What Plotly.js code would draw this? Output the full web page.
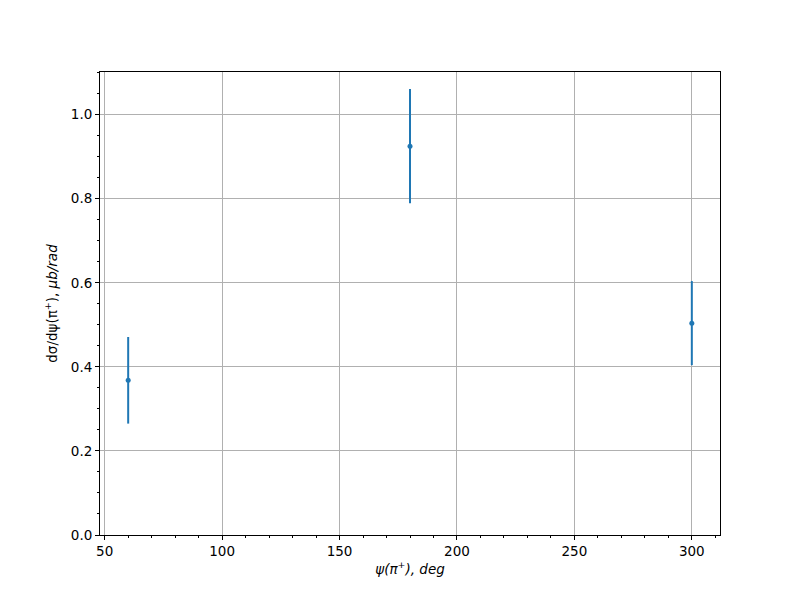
<!DOCTYPE html>
<html><head><meta charset="utf-8">
<script src="https://cdn.plot.ly/plotly-3.0.1.min.js"></script>
<style>body{margin:0;background:#fff}#chart{width:800px;height:600px}</style>
</head><body><div id="chart"></div>
<script>
const psiDeg = [60, 180, 300];
const dsigma = [0.368, 0.925, 0.504];
const dsigmaErr = [0.103, 0.136, 0.100];

const trace = {
  x: psiDeg, y: dsigma, type: 'scatter', mode: 'markers',
  marker: {color: '#1f77b4', size: 5},
  error_y: {type: 'data', array: dsigmaErr, visible: true, color: '#1f77b4', thickness: 2, width: 0}
};
const axBase = {
  showline: true, mirror: true, linecolor: '#000', linewidth: 1,
  ticks: 'outside', ticklen: 4, tickwidth: 1, tickcolor: '#000',
  showgrid: true, gridcolor: '#b0b0b0', gridwidth: 1, zeroline: false,
  tickfont: {family: 'DejaVu Sans', size: 13.5, color: '#000'},
  title: {font: {family: 'DejaVu Sans', size: 13.5, color: '#000'}}
};
const layout = {
  width: 800, height: 600, showlegend: false,
  paper_bgcolor: '#fff', plot_bgcolor: '#fff',
  margin: {l: 100, r: 80, t: 72, b: 65},
  xaxis: Object.assign({}, axBase, {
    range: [48, 312], tick0: 50, dtick: 50,
    minor: {dtick: 10, ticks: 'outside', ticklen: 2, tickcolor: '#000', showgrid: false},
    title: {text: '<i>ψ(π<sup>+</sup>), deg</i>', standoff: 6, font: axBase.title.font}
  }),
  yaxis: Object.assign({}, axBase, {
    range: [0, 1.1014], tick0: 0, dtick: 0.2, tickformat: '.1f',
    minor: {dtick: 0.05, ticks: 'outside', ticklen: 2, tickcolor: '#000', showgrid: false},
    title: {text: 'dσ/dψ(π<sup>+</sup>), <i>μb/rad</i>', standoff: 10, font: axBase.title.font}
  })
};
Plotly.newPlot('chart', [trace], layout, {displayModeBar: false, staticPlot: true});
</script></body></html>
